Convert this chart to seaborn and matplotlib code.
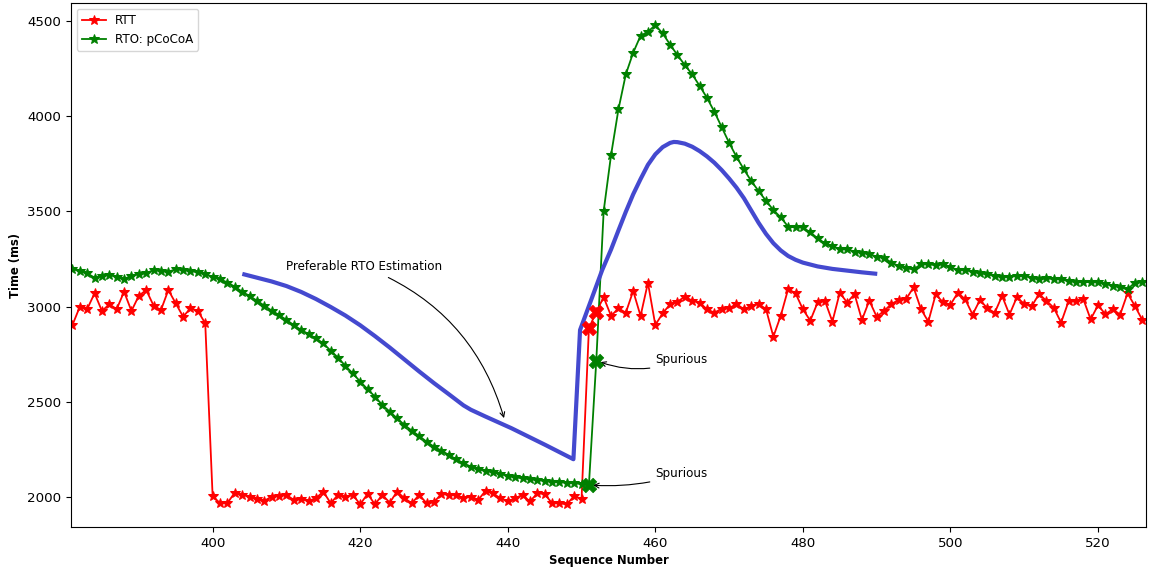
import numpy as np
import pandas as pd
import matplotlib
matplotlib.use("Agg")
import matplotlib.pyplot as plt
import seaborn as sns

# Sequence numbers of the trace
seq = list(range(381, 527))

# Measured round-trip times (ms)
rtt = [2903, 2999, 2987, 3070, 2977, 3012, 2987, 3078, 2977, 3057,
       3087, 3005, 2982, 3087, 3017, 2947, 2991, 2977, 2912,
       2005, 1967, 1967, 2023, 2011, 2002, 1988, 1979, 2002, 2005,
       2011, 1984, 1988, 1979, 1993, 2028, 1967, 2011, 1998, 2011,
       1961, 2016, 1961, 2011, 1970, 2028,
       1993, 1967, 2011, 1967, 1972, 2016, 2011, 2011, 1993, 2002,
       1984, 2033, 2019, 1993, 1976, 1993, 2011, 1976, 2019, 2016,
       1967, 1967, 1961, 2005, 1988,
       2886, 2973, 3049, 2951, 2991, 2968, 3082, 2951, 3125, 2903,
       2965, 3012, 3026, 3052, 3031,
       3021, 2986, 2968, 2989, 2991, 3014, 2986, 3003, 3014, 2987,
       2842, 2952, 3092, 3070, 2986, 2926, 3022, 3029, 2921, 3073,
       3021, 3066, 2930, 3031, 2947,
       2977, 3014, 3035, 3040, 3101, 2987, 2921, 3064, 3022, 3010,
       3073, 3038, 2958, 3035, 2991, 2968, 3056, 2958, 3049, 3014,
       3001, 3066, 3031, 2994, 2916, 3027, 3027, 3040, 2933, 3007,
       2960, 2986, 2958, 3070, 3003, 2930]

# Retransmission timeout computed by pCoCoA (ms)
rto = [3197, 3187, 3175, 3152, 3162, 3166, 3157, 3145, 3162, 3170,
       3175, 3192, 3187, 3183, 3196, 3192, 3187, 3180, 3170,
       3157, 3145, 3126, 3105, 3078, 3056, 3031, 3005, 2979, 2956,
       2930, 2903, 2877, 2856, 2833, 2807, 2768, 2732, 2688, 2649,
       2606, 2566, 2527, 2483, 2448, 2413, 2378, 2348, 2320, 2290,
       2264, 2243, 2221, 2198, 2177, 2159, 2145, 2137, 2130, 2121,
       2110, 2103, 2098, 2093, 2089, 2084, 2080, 2077, 2075, 2072,
       2068,
       2063, 2716, 3502, 3796, 4036, 4220, 4334, 4423, 4444, 4479,
       4435, 4377, 4321, 4269, 4220, 4160, 4097, 4024, 3942, 3861,
       3787, 3721, 3660, 3607, 3556, 3507, 3469, 3420, 3416, 3416,
       3390, 3359, 3332, 3318, 3301, 3301, 3289, 3284, 3275, 3263,
       3257, 3231, 3213, 3201, 3196, 3222, 3222, 3218, 3222, 3206,
       3192, 3192, 3183, 3175, 3170, 3161, 3157, 3157, 3161, 3161,
       3152, 3143, 3148, 3145, 3143, 3134, 3130, 3130, 3128, 3128,
       3119, 3110, 3101, 3091, 3126, 3128]

# Hand-drawn preferable RTO estimate
pref_x = [404.3, 406, 408, 410, 412, 414, 416, 418, 420, 422, 424, 426,
          428, 430, 432, 434, 435, 436, 437, 440.5, 445.1, 448.9,
          449.8, 452.8, 454, 455, 456, 457, 458, 459, 460, 461, 462,
          462.5, 463, 464, 465, 466, 467, 468, 469, 470, 471, 472, 473,
          474, 475, 476, 477, 478, 479, 480, 482, 484, 486, 488, 489.8]
pref_y = [3169, 3152, 3132, 3108, 3077, 3040, 2998, 2953, 2902, 2845,
          2785, 2722, 2659, 2598, 2540, 2481, 2458, 2440, 2422, 2361,
          2273, 2198,
          2877, 3192, 3300, 3400, 3498, 3590, 3670, 3745, 3800, 3838,
          3860, 3865, 3864, 3856, 3840, 3817, 3789, 3756, 3717, 3673,
          3625, 3570, 3505, 3440, 3382, 3333, 3295, 3266, 3246, 3231,
          3211, 3198, 3189, 3180, 3173]

# Spurious samples
spur_seq = [451, 452]
spur_rtt = [2886, 2973]
spur_rto = [2063, 2716]

df = pd.DataFrame({"seq": seq, "RTT": rtt, "RTO": rto})
pref = pd.DataFrame({"x": pref_x, "y": pref_y})

plt.rcParams["font.family"] = ["DejaVu Sans"]

fig, ax = plt.subplots(figsize=(11.5, 5.68), dpi=100)
fig.subplots_adjust(left=0.0617, right=0.9965, top=0.9947, bottom=0.0722)

sns.lineplot(data=df, x="seq", y="RTT", ax=ax, color="red", marker="*",
             markersize=7.5, markeredgecolor="red", linewidth=1.3,
             label="RTT", sort=False)
sns.lineplot(data=df, x="seq", y="RTO", ax=ax, color="green", marker="*",
             markersize=7.5, markeredgecolor="green", linewidth=1.3,
             label="RTO: pCoCoA", sort=False)
sns.lineplot(data=pref, x="x", y="y", ax=ax, color="#4449cf",
             linewidth=3.0, sort=False, legend=False)
sns.scatterplot(x=spur_seq, y=spur_rtt, ax=ax, color="red", marker="X",
                s=110, edgecolor="red", linewidth=0.5, legend=False, zorder=5)
sns.scatterplot(x=spur_seq, y=spur_rto, ax=ax, color="green", marker="X",
                s=110, edgecolor="green", linewidth=0.5, legend=False, zorder=5)

ax.annotate("Preferable RTO Estimation", xy=(439.6, 2400), xytext=(410, 3208),
            fontsize=8.6, va="center", ha="left",
            arrowprops=dict(arrowstyle="->", color="black", lw=0.8,
                            connectionstyle="arc3,rad=-0.25"))
ax.annotate("Spurious", xy=(spur_seq[1], spur_rto[1]), xytext=(460, 2720),
            fontsize=8.6, va="center", ha="left",
            arrowprops=dict(arrowstyle="->", color="black", lw=0.8,
                            connectionstyle="arc3,rad=-0.2", shrinkB=3))
ax.annotate("Spurious", xy=(spur_seq[0], spur_rto[0]), xytext=(460, 2121),
            fontsize=8.6, va="center", ha="left",
            arrowprops=dict(arrowstyle="->", color="black", lw=0.8,
                            connectionstyle="arc3,rad=-0.1", shrinkB=3))

ax.set_xlim(380.8, 526.5)
ax.set_ylim(1842, 4595)
ax.set_xticks([400, 420, 440, 460, 480, 500, 520])
ax.set_yticks([2000, 2500, 3000, 3500, 4000, 4500])
ax.tick_params(labelsize=9.6)
ax.set_xlabel("Sequence Number", fontsize=8.4, fontweight="bold", labelpad=3)
ax.set_ylabel("Time (ms)", fontsize=8.4, fontweight="bold")
ax.legend(loc="upper left", fontsize=8.6)

fig.savefig("out.png", dpi=100)
